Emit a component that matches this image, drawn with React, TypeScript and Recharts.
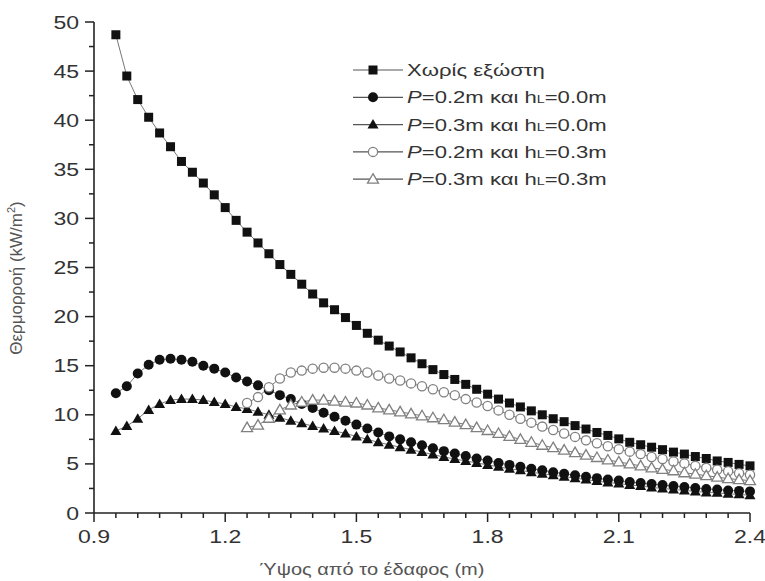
import React from "react";
import { LineChart, Line, XAxis, YAxis, Legend } from "recharts";

// height above ground (m)
const heights = [
  0.95, 0.975, 1.0, 1.025, 1.05, 1.075, 1.1, 1.125, 1.15, 1.175,
  1.2, 1.225, 1.25, 1.275, 1.3, 1.325, 1.35, 1.375, 1.4, 1.425,
  1.45, 1.475, 1.5, 1.525, 1.55, 1.575, 1.6, 1.625, 1.65, 1.675,
  1.7, 1.725, 1.75, 1.775, 1.8, 1.825, 1.85, 1.875, 1.9, 1.925,
  1.95, 1.975, 2.0, 2.025, 2.05, 2.075, 2.1, 2.125, 2.15, 2.175,
  2.2, 2.225, 2.25, 2.275, 2.3, 2.325, 2.35, 2.375, 2.4,
];
const noBalcony = [
  48.7, 44.5, 42.1, 40.3, 38.7, 37.3, 35.8, 34.7, 33.6, 32.4,
  31.1, 29.8, 28.6, 27.5, 26.4, 25.3, 24.3, 23.3, 22.3, 21.4,
  20.7, 19.9, 19.1, 18.3, 17.6, 17.0, 16.4, 15.8, 15.2, 14.6,
  14.1, 13.6, 13.1, 12.6, 12.1, 11.6, 11.2, 10.8, 10.4, 10.0,
  9.6, 9.3, 8.9, 8.55, 8.2, 7.9, 7.55, 7.2, 6.95, 6.7,
  6.45, 6.2, 6.0, 5.75, 5.55, 5.3, 5.15, 4.95, 4.8,
];
const p02h00 = [
  12.2, 12.9, 14.2, 15.1, 15.6, 15.7, 15.6, 15.4, 15.0, 14.7,
  14.3, 13.8, 13.4, 13.0, 12.5, 12.0, 11.6, 11.1, 10.7, 10.2,
  9.8, 9.4, 9.0, 8.6, 8.2, 7.8, 7.5, 7.2, 6.9, 6.6,
  6.3, 6.05, 5.8, 5.55, 5.35, 5.1, 4.9, 4.7, 4.5, 4.35,
  4.15, 4.0, 3.85, 3.7, 3.55, 3.4, 3.3, 3.15, 3.05, 2.95,
  2.85, 2.75, 2.65, 2.55, 2.45, 2.4, 2.3, 2.25, 2.2,
];
const p03h00 = [
  8.35, 8.85, 9.6, 10.5, 11.1, 11.5, 11.6, 11.6, 11.5, 11.3,
  11.1, 10.8, 10.6, 10.3, 10.0, 9.7, 9.4, 9.15, 8.85, 8.6,
  8.35, 8.1, 7.8, 7.5, 7.2, 6.95, 6.7, 6.45, 6.2, 5.95,
  5.7, 5.5, 5.3, 5.1, 4.9, 4.7, 4.5, 4.35, 4.15, 4.0,
  3.85, 3.7, 3.55, 3.4, 3.25, 3.1, 3.0, 2.85, 2.75, 2.6,
  2.5, 2.4, 2.3, 2.2, 2.1, 2.05, 1.95, 1.9, 1.8,
];

// series with hL = 0.3m start higher up
const balconyHeights = [
  1.25, 1.275, 1.3, 1.325, 1.35, 1.375, 1.4, 1.425, 1.45, 1.475,
  1.5, 1.525, 1.55, 1.575, 1.6, 1.625, 1.65, 1.675, 1.7, 1.725,
  1.75, 1.775, 1.8, 1.825, 1.85, 1.875, 1.9, 1.925, 1.95, 1.975,
  2.0, 2.025, 2.05, 2.075, 2.1, 2.125, 2.15, 2.175, 2.2, 2.225,
  2.25, 2.275, 2.3, 2.325, 2.35, 2.375, 2.4,
];
const p02h03 = [
  11.2, 11.8, 12.8, 13.7, 14.3, 14.5, 14.7, 14.8, 14.8, 14.7,
  14.5, 14.3, 14.0, 13.7, 13.5, 13.2, 12.9, 12.6, 12.3, 12.0,
  11.6, 11.25, 10.9, 10.45, 10.0, 9.6, 9.2, 8.8, 8.45, 8.1,
  7.75, 7.4, 7.1, 6.8, 6.5, 6.25, 6.0, 5.7, 5.5, 5.25,
  5.05, 4.8, 4.6, 4.4, 4.25, 4.05, 3.9,
];
const p03h03 = [
  8.7, 8.95, 9.65, 10.5, 11.0, 11.3, 11.5, 11.5, 11.4, 11.3,
  11.2, 11.0, 10.7, 10.5, 10.3, 10.1, 9.9, 9.7, 9.5, 9.25,
  9.0, 8.7, 8.4, 8.1, 7.8, 7.5, 7.2, 6.9, 6.65, 6.4,
  6.15, 5.9, 5.65, 5.4, 5.2, 5.0, 4.8, 4.6, 4.45, 4.3,
  4.1, 3.95, 3.8, 3.65, 3.5, 3.4, 3.3,
];

const xTicks = [
  0.9, 0.95, 1.0, 1.05, 1.1, 1.15, 1.2, 1.25, 1.3, 1.35, 1.4, 1.45, 1.5, 1.55, 1.6, 1.65,
  1.7, 1.75, 1.8, 1.85, 1.9, 1.95, 2.0, 2.05, 2.1, 2.15, 2.2, 2.25, 2.3, 2.35, 2.4,
];
const xLabels = [0.9, 1.2, 1.5, 1.8, 2.1, 2.4];
const yTicks = [0, 2.5, 5, 7.5, 10, 12.5, 15, 17.5, 20, 22.5, 25, 27.5, 30, 32.5, 35, 37.5, 40, 42.5, 45, 47.5, 50];
const yLabels = [0, 5, 10, 15, 20, 25, 30, 35, 40, 45, 50];

const FONT = "'Liberation Sans', Arial, sans-serif";
const AXIS = "#222";
const STRETCH = 1.28;

type Shape = "square" | "circle" | "triangle" | "circleOpen" | "triangleOpen";

const toPoints = (xs: number[], ys: number[]) => xs.map((x, i) => ({ x, y: ys[i] }));

const series: { name: string; p?: string; h?: string; shape: Shape; data: { x: number; y: number }[] }[] = [
  { name: "Χωρίς εξώστη", shape: "square", data: toPoints(heights, noBalcony) },
  { name: "P=0.2m hL=0.0m", p: "0.2", h: "0.0", shape: "circle", data: toPoints(heights, p02h00) },
  { name: "P=0.3m hL=0.0m", p: "0.3", h: "0.0", shape: "triangle", data: toPoints(heights, p03h00) },
  { name: "P=0.2m hL=0.3m", p: "0.2", h: "0.3", shape: "circleOpen", data: toPoints(balconyHeights, p02h03) },
  { name: "P=0.3m hL=0.3m", p: "0.3", h: "0.3", shape: "triangleOpen", data: toPoints(balconyHeights, p03h03) },
];

function Marker({ shape, cx, cy }: { shape: Shape; cx: number; cy: number }) {
  const open = { fill: "#fff", stroke: "#808080", strokeWidth: 1.3 };
  switch (shape) {
    case "square":
      return <rect x={cx - 4.5} y={cy - 4.5} width={9} height={9} fill="#111" />;
    case "circle":
      return <circle cx={cx} cy={cy} r={5} fill="#111" />;
    case "triangle":
      return <polygon points={`${cx},${cy - 5.5} ${cx + 5.5},${cy + 4} ${cx - 5.5},${cy + 4}`} fill="#111" />;
    case "circleOpen":
      return <circle cx={cx} cy={cy} r={4.6} {...open} />;
    default:
      return <polygon points={`${cx},${cy - 5.5} ${cx + 5.5},${cy + 4} ${cx - 5.5},${cy + 4}`} {...open} />;
  }
}

function XTick({ x, y, payload }: any) {
  const major = xLabels.includes(payload.value);
  return (
    <g>
      <line x1={x} x2={x} y1={y} y2={y + (major ? 9 : 5)} stroke={AXIS} strokeWidth={1.5} />
      {major && (
        <text transform={`translate(${x},${y + 30}) scale(${STRETCH},1)`} textAnchor="middle" fontFamily={FONT} fontSize={18} fill="#333">
          {payload.value.toFixed(1)}
        </text>
      )}
    </g>
  );
}

function YTick({ x, y, payload }: any) {
  const major = yLabels.includes(payload.value);
  return (
    <g>
      <line x1={x - (major ? 9 : 5)} x2={x} y1={y} y2={y} stroke={AXIS} strokeWidth={1.5} />
      {major && (
        <text transform={`translate(${x - 15},${y + 6.5}) scale(${STRETCH},1)`} textAnchor="end" fontFamily={FONT} fontSize={18} fill="#333">
          {payload.value}
        </text>
      )}
    </g>
  );
}

function LegendBox() {
  return (
    <svg width={300} height={150}>
      {series.map((s, i) => {
        const cy = 15 + i * 27.3;
        return (
          <g key={s.name}>
            <line x1={18} x2={68} y1={cy} y2={cy} stroke="#555" strokeWidth={1.2} />
            <Marker shape={s.shape} cx={38} cy={cy} />
            <text transform={`translate(72,${cy + 6}) scale(1.3,1)`} fontFamily={FONT} fontSize={17} fill="#333">
              {s.p ? (
                <>
                  <tspan fontStyle="italic">P</tspan>
                  <tspan>{`=${s.p}m και h`}</tspan>
                  <tspan fontSize={11}>L</tspan>
                  <tspan>{`=${s.h}m`}</tspan>
                </>
              ) : (
                s.name
              )}
            </text>
          </g>
        );
      })}
    </svg>
  );
}

export default function App() {
  return (
    <div style={{ position: "absolute", left: 0, top: 0, background: "#fff" }}>
      <LineChart width={765} height={581} margin={{ top: 22, right: 15, left: 0, bottom: 0 }}>
        <XAxis
          type="number"
          dataKey="x"
          domain={[0.9, 2.4]}
          ticks={xTicks}
          interval={0}
          height={68}
          tickSize={0}
          tickMargin={0}
          tickLine={false}
          axisLine={{ stroke: AXIS, strokeWidth: 1.6 }}
          tick={<XTick />}
          label={{
            content: () => (
              <text transform={`translate(372,575) scale(1.25,1)`} textAnchor="middle" fontFamily={FONT} fontSize={16} fill="#555">
                Ύψος από το έδαφος (m)
              </text>
            ),
          }}
        />
        <YAxis
          type="number"
          dataKey="y"
          domain={[0, 50]}
          ticks={yTicks}
          interval={0}
          width={94}
          tickSize={0}
          tickMargin={0}
          tickLine={false}
          axisLine={{ stroke: AXIS, strokeWidth: 1.6 }}
          tick={<YTick />}
          label={{
            content: () => (
              <text transform="translate(22,278) rotate(-90)" textAnchor="middle" fontFamily={FONT} fontSize={17} fill="#555">
                Θερμορροή (kW/m
                <tspan dy={-7} fontSize={11}>2</tspan>
                <tspan dy={7}>)</tspan>
              </text>
            ),
          }}
        />
        <Legend
          layout="vertical"
          verticalAlign="middle"
          align="center"
          wrapperStyle={{ position: "absolute", left: 335, top: 55, width: 300, height: 150 }}
          content={() => <LegendBox />}
        />
        {series.map((s) => (
          <Line
            key={s.name}
            data={s.data}
            dataKey="y"
            name={s.name}
            type="linear"
            stroke="#777"
            strokeWidth={1}
            isAnimationActive={false}
            dot={(props: any) => <Marker key={`${s.name}-${props.index}`} shape={s.shape} cx={props.cx} cy={props.cy} />}
            activeDot={false}
          />
        ))}
      </LineChart>
    </div>
  );
}
